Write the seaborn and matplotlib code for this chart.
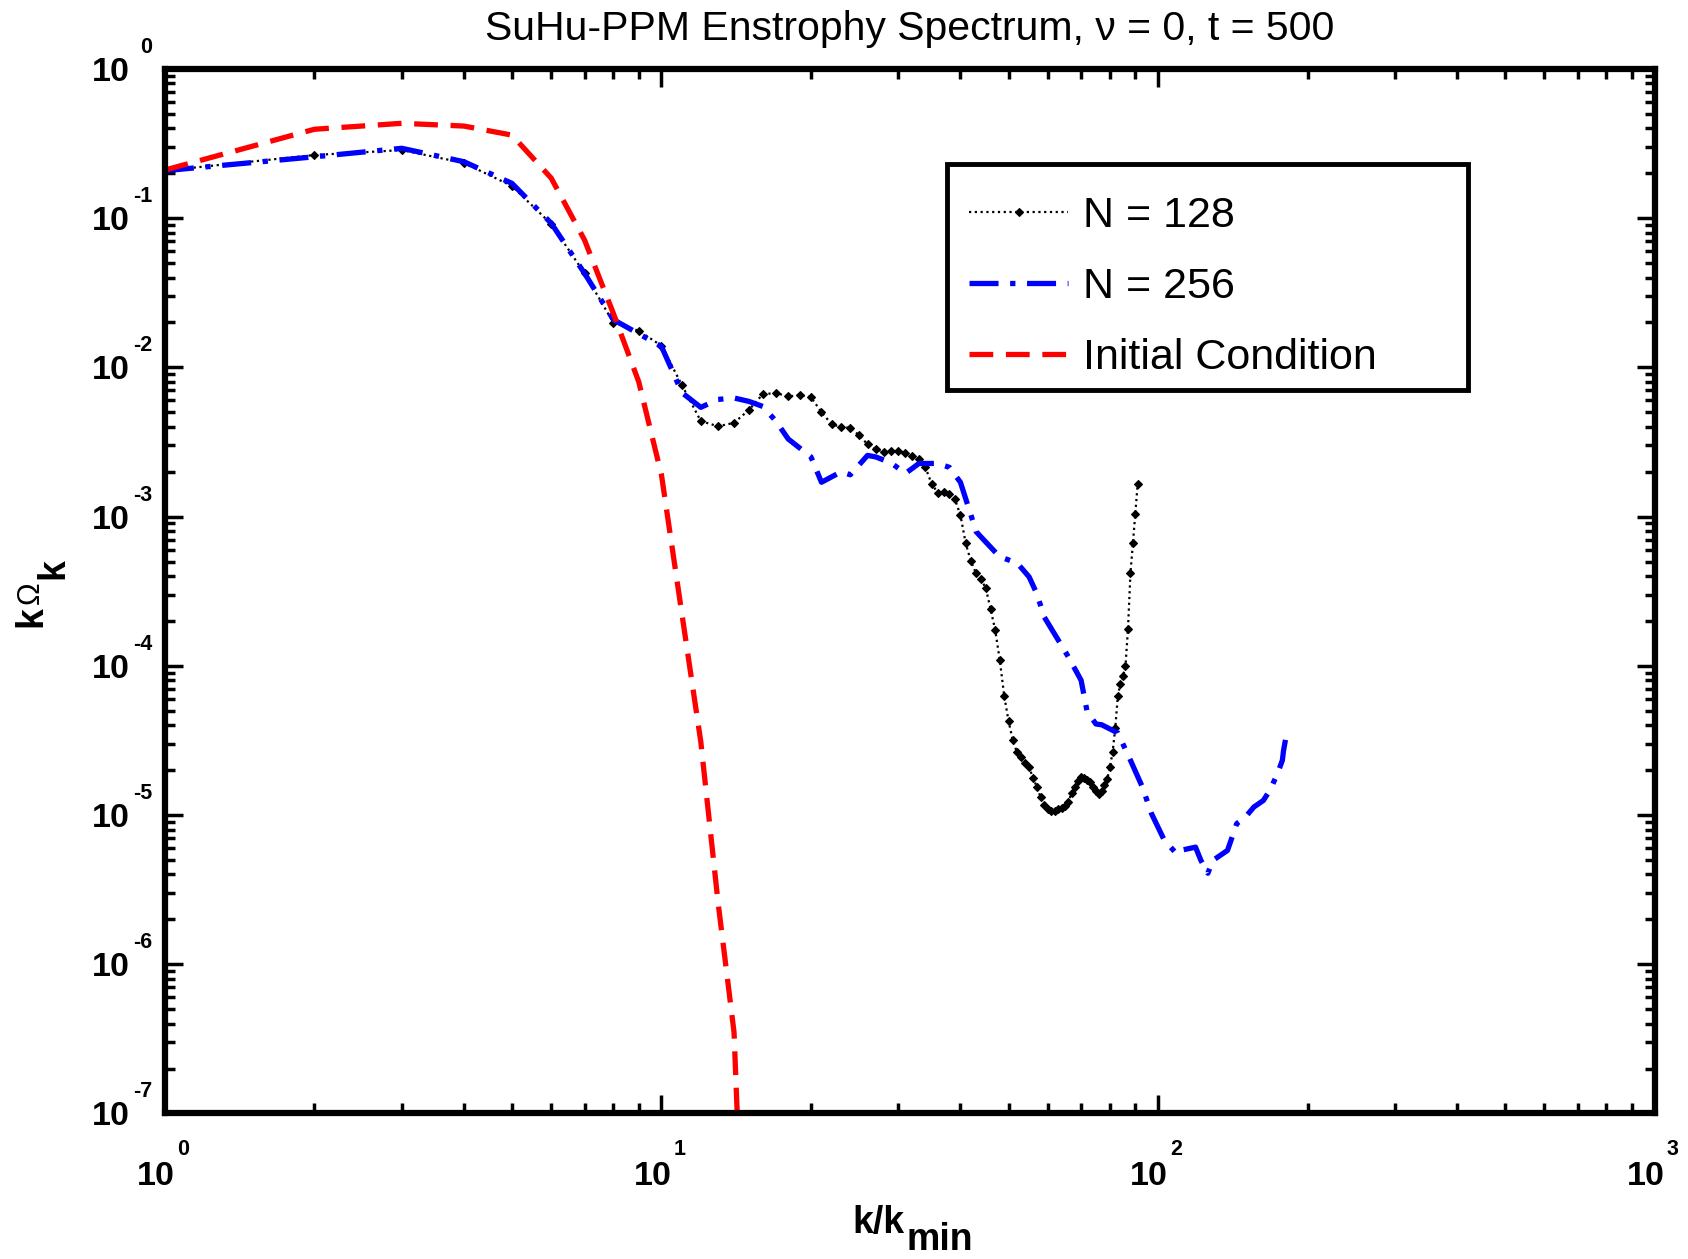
import numpy as np
import pandas as pd
import matplotlib
matplotlib.use("Agg")
import matplotlib.pyplot as plt
import matplotlib.ticker as mticker
import matplotlib.transforms as mtransforms
from matplotlib.patches import Rectangle
import seaborn as sns

# ---------------- data ----------------
title = "SuHu-PPM Enstrophy Spectrum, \u03bd = 0, t = 500"
labels = ["N = 128", "N = 256", "Initial Condition"]
x_decades = [0, 1, 2, 3]
y_decades = [-7, -6, -5, -4, -3, -2, -1, 0]

# N = 128 run: one value per integer wavenumber, log10(k Omega_k)
k_128 = list(range(1, 92))
log_omega_128 = [
    -0.682, -0.577, -0.544, -0.630, -0.785, -1.040, -1.370, -1.700, -1.755, -1.855,
    -2.120, -2.360, -2.395, -2.372, -2.285, -2.180, -2.172, -2.195, -2.186, -2.200,
    -2.300, -2.380, -2.400, -2.405, -2.455, -2.515, -2.550, -2.565, -2.562, -2.560,
    -2.575, -2.592, -2.615, -2.670, -2.780, -2.840, -2.838, -2.850, -2.885, -2.990,
    -3.180, -3.300, -3.380, -3.420, -3.480, -3.620, -3.760, -3.960, -4.200, -4.370,
    -4.500, -4.580, -4.612, -4.650, -4.680, -4.750, -4.810, -4.880, -4.930, -4.960,
    -4.973, -4.970, -4.960, -4.950, -4.940, -4.910, -4.850, -4.810, -4.770, -4.748,
    -4.750, -4.765, -4.779, -4.810, -4.840, -4.860, -4.840, -4.800, -4.760, -4.680,
    -4.580, -4.420, -4.200, -4.120, -4.070, -4.000, -3.750, -3.380, -3.180, -2.980,
    -2.780,
]

# N = 256 run
k_256 = [1, 2, 3, 4, 5, 6, 7, 8, 9, 10, 11, 12, 13, 14, 15, 16, 17, 18, 20, 21,
         23, 24, 26, 27, 29, 31, 33, 36, 38, 40, 42, 43, 44, 48, 52, 55, 57, 59, 63, 66,
         70, 72, 75, 77, 83, 88, 93, 97, 103, 109, 111, 119, 122, 126, 129, 138, 141, 144, 150, 156,
         163, 168, 174, 178, 179, 181]
log_omega_256 = [
    -0.682, -0.589, -0.532, -0.622, -0.767, -1.035, -1.370, -1.680, -1.775, -1.860,
    -2.170, -2.268, -2.215, -2.205, -2.228, -2.262, -2.360, -2.480, -2.600, -2.770,
    -2.700, -2.720, -2.590, -2.600, -2.640, -2.711, -2.644, -2.644, -2.670, -2.770,
    -2.990, -3.100, -3.136, -3.270, -3.310, -3.404, -3.516, -3.673, -3.829, -3.941,
    -4.097, -4.309, -4.390, -4.395, -4.450, -4.633, -4.812, -4.990, -5.170, -5.259,
    -5.237, -5.215, -5.304, -5.390, -5.304, -5.237, -5.148, -5.058, -5.013, -4.946,
    -4.902, -4.834, -4.723, -4.633, -4.566, -4.477,
]

# Initial condition
k_init = [1, 2, 3, 4, 5, 6, 7, 8, 9, 10, 11, 12, 13, 14, 15]
omega_init = [0.21, 0.394, 0.432, 0.414, 0.36, 0.185, 0.0713, 0.023, 8.0e-3, 1.9e-3,
              2.2e-4, 3.1e-5, 2.6e-6, 3.5e-7, 1.0e-9]

# ---------------- style ----------------
sns.set_theme(style="white")
plt.rcParams["font.family"] = ["Liberation Sans", "DejaVu Sans"]
plt.rcParams["axes.linewidth"] = 4.5

df128 = pd.DataFrame({"k": k_128, "v": np.power(10.0, log_omega_128)})
df256 = pd.DataFrame({"k": k_256, "v": np.power(10.0, log_omega_256)})
dfini = pd.DataFrame({"k": k_init, "v": omega_init})

fig = plt.figure(figsize=(16.88, 12.59), dpi=100)
ax = fig.add_axes([0.0977, 0.11557, 0.8825, 0.8297])
ax.set_facecolor("white")

sns.lineplot(data=df128, x="k", y="v", ax=ax, color="black", linewidth=1.6,
             linestyle=(0, (1, 1.6)), marker="D", markersize=4.5, markeredgewidth=0.8,
             markeredgecolor="black", label=labels[0], sort=False, estimator=None)
sns.lineplot(data=df256, x="k", y="v", ax=ax, color="#0000ff", linewidth=3.8,
             linestyle=(0, (5.5, 2.2, 1.0, 2.2)), label=labels[1], sort=False, estimator=None)
sns.lineplot(data=dfini, x="k", y="v", ax=ax, color="#ff0000", linewidth=3.8,
             linestyle=(0, (4.5, 2.4)), label=labels[2], sort=False, estimator=None)
ax.set_xlabel("")
ax.set_ylabel("")

ax.set_xscale("log")
ax.set_yscale("log")
ax.set_xticks([10.0 ** e for e in x_decades])
ax.set_yticks([10.0 ** e for e in y_decades])
ax.set_xticklabels(["10"] * len(x_decades))
ax.set_yticklabels(["10"] * len(y_decades))
ax.xaxis.set_minor_locator(mticker.LogLocator(base=10, subs=np.arange(2, 10), numticks=20))
ax.yaxis.set_minor_locator(mticker.LogLocator(base=10, subs=np.arange(2, 10), numticks=20))
ax.xaxis.set_minor_formatter(mticker.NullFormatter())
ax.yaxis.set_minor_formatter(mticker.NullFormatter())
ax.set_xlim(1, 1000)
ax.set_ylim(1e-7, 1)

ax.tick_params(which="both", direction="in", top=True, right=True, bottom=True, left=True,
               color="black", width=2.5, labelsize=24.5, labelcolor="black")
ax.tick_params(which="major", length=13)
ax.tick_params(which="minor", length=7)
ax.tick_params(axis="x", which="major", pad=34)
ax.tick_params(axis="y", which="major", pad=25)
for s in ax.spines.values():
    s.set_color("black")
    s.set_linewidth(4.5)

shift_left = mtransforms.ScaledTranslation(-9 / 100.0, 0, fig.dpi_scale_trans)
for lab in ax.get_xticklabels():
    lab.set_fontweight("bold")
    lab.set_transform(lab.get_transform() + shift_left)
for lab in ax.get_yticklabels():
    lab.set_fontweight("bold")

# exponents of the tick labels, raised above the "10" as in the original
for e in y_decades:
    ax.annotate(str(e), xy=(0, 10.0 ** e), xycoords=ax.get_yaxis_transform(),
                xytext=(-9, 15.5), textcoords="offset points", ha="right", va="center",
                fontsize=15.5, fontweight="bold", color="black", annotation_clip=False)
for e in x_decades:
    ax.annotate(str(e), xy=(10.0 ** e, 0), xycoords=ax.get_xaxis_transform(),
                xytext=(8.6, -25.6), textcoords="offset points", ha="left", va="center",
                fontsize=15.5, fontweight="bold", color="black", annotation_clip=False)

ax.set_title(title, fontsize=29.5, pad=21, color="black")

# axis labels with full-size, lowered subscripts
ax.text(0.4966, -0.1140, "k/k", transform=ax.transAxes, ha="right", va="baseline",
        fontsize=27, fontweight="bold", color="black")
ax.text(0.4980, -0.1310, "min", transform=ax.transAxes, ha="left", va="baseline",
        fontsize=27, fontweight="bold", color="black")
ax.text(-0.0896, 0.4760, "k", transform=ax.transAxes, ha="center", va="center",
        rotation=90, fontsize=27, fontweight="bold", color="black")
ax.text(-0.0900, 0.4985, "\u03a9", transform=ax.transAxes, ha="center", va="center",
        rotation=90, fontsize=22, color="black")
ax.text(-0.0749, 0.5220, "k", transform=ax.transAxes, ha="center", va="center",
        rotation=90, fontsize=27, fontweight="bold", color="black")

# legend box (frame drawn separately so the entries can sit as low as in the original)
ax.add_patch(Rectangle((0.5248, 0.6926), 0.3497, 0.2164, transform=ax.transAxes,
                       facecolor="white", edgecolor="black", linewidth=3.5, zorder=4,
                       clip_on=False))
leg = ax.legend(loc="upper left", bbox_to_anchor=(0.5254, 0.6822, 0.3494, 0.2164),
                mode="expand", borderaxespad=0, frameon=False,
                prop={"size": 31}, handlelength=2.3,
                handletextpad=0.35, labelspacing=0.72, borderpad=0.5, numpoints=1)
leg.set_zorder(5)
for t in leg.get_texts():
    t.set_color("black")

fig.savefig("out.png", dpi=100, facecolor="white")
